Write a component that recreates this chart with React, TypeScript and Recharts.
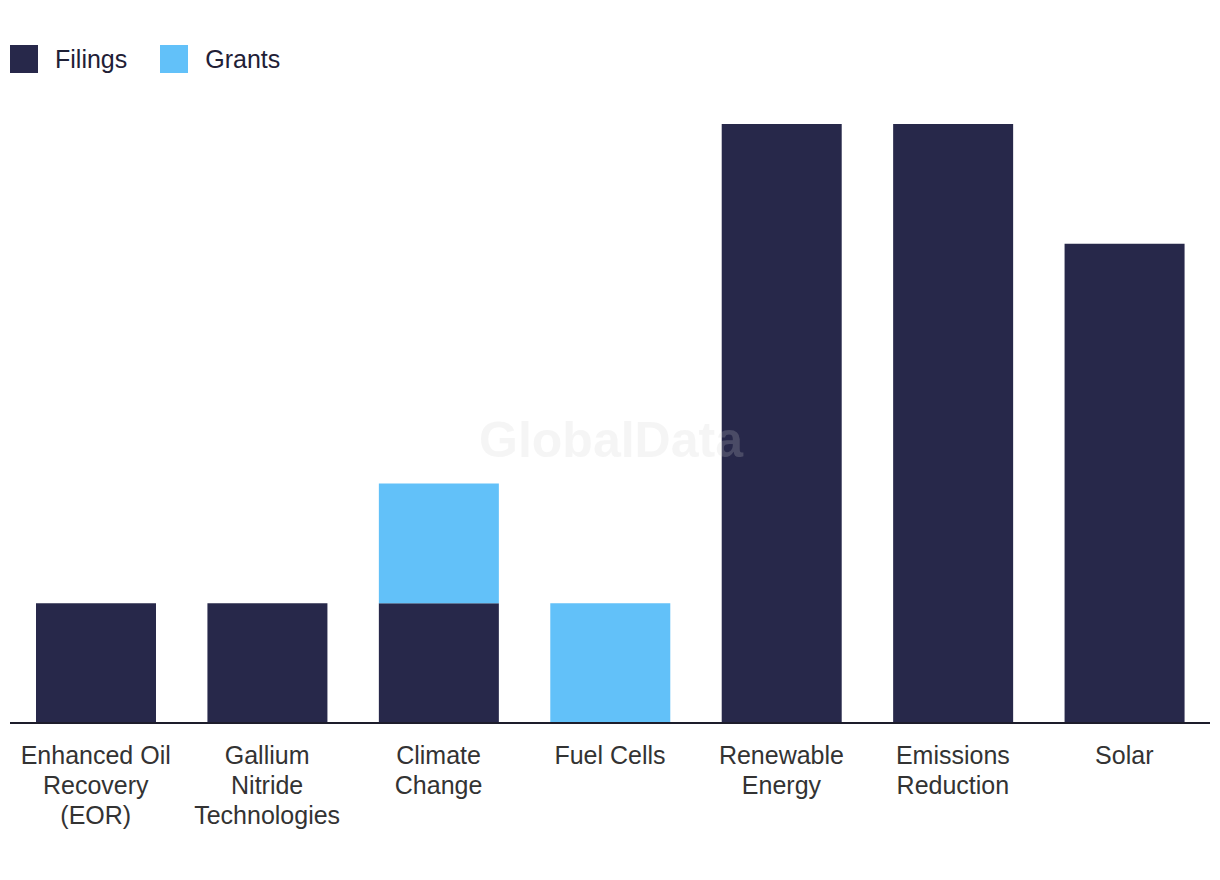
import { Bar, BarChart, XAxis, YAxis } from 'recharts';

const CATEGORIES = [
  'Enhanced Oil Recovery (EOR)',
  'Gallium Nitride Technologies',
  'Climate Change',
  'Fuel Cells',
  'Renewable Energy',
  'Emissions Reduction',
  'Solar',
];

// how each category label breaks into lines under the axis
const TICK_LINES = [
  ['Enhanced Oil', 'Recovery', '(EOR)'],
  ['Gallium', 'Nitride', 'Technologies'],
  ['Climate', 'Change'],
  ['Fuel Cells'],
  ['Renewable', 'Energy'],
  ['Emissions', 'Reduction'],
  ['Solar'],
];

const FILINGS = [1, 1, 1, 0, 5, 5, 4];
const GRANTS = [0, 0, 1, 1, 0, 0, 0];

const NAVY = '#27284a';
const SKY = '#62c1f9';
const FONT = '"Liberation Sans", Arial, sans-serif';

const data = CATEGORIES.map((name, i) => ({
  name,
  filings: FILINGS[i],
  grants: GRANTS[i],
}));

const CategoryTick = (props: any) => {
  const { x, y, index } = props;
  const lines = TICK_LINES[index] ?? [String(props.payload?.value ?? '')];
  return (
    <g transform={`translate(${x},${y})`}>
      {lines.map((line: string, i: number) => (
        <text
          key={i}
          x={0}
          y={33 + i * 30}
          textAnchor="middle"
          fill="#333333"
          fontSize={25}
          fontFamily={FONT}
        >
          {line}
        </text>
      ))}
    </g>
  );
};

const LEGEND = [
  { label: 'Filings', color: NAVY },
  { label: 'Grants', color: SKY },
];

export default function App() {
  return (
    <div
      style={{
        position: 'absolute',
        left: 0,
        top: 0,
        width: 1220,
        height: 880,
        background: '#ffffff',
        fontFamily: FONT,
      }}
    >
      <div style={{ position: 'absolute', left: 10, top: 45, display: 'flex', alignItems: 'center' }}>
        {LEGEND.map((item) => (
          <div key={item.label} style={{ display: 'flex', alignItems: 'center', marginRight: 33 }}>
            <span style={{ width: 28, height: 28, background: item.color, display: 'inline-block' }} />
            <span style={{ marginLeft: 17, fontSize: 25, color: '#1f2036', lineHeight: '26px' }}>
              {item.label}
            </span>
          </div>
        ))}
      </div>

      <BarChart
        width={1220}
        height={880}
        data={data}
        margin={{ top: 124, right: 10, bottom: 37, left: 10 }}
        barSize={120}
      >
        <XAxis
          dataKey="name"
          interval={0}
          height={120}
          tickLine={false}
          axisLine={{ stroke: '#1d1d2b', strokeWidth: 2 }}
          tick={<CategoryTick />}
        />
        <YAxis hide domain={[0, 5]} />
        <Bar dataKey="filings" stackId="a" fill={NAVY} isAnimationActive={false} />
        <Bar dataKey="grants" stackId="a" fill={SKY} isAnimationActive={false} />
      </BarChart>

      <svg
        width={1220}
        height={880}
        style={{ position: 'absolute', left: 0, top: 0, pointerEvents: 'none' }}
      >
        <text
          x={611}
          y={457}
          textAnchor="middle"
          fontFamily={FONT}
          fontWeight="bold"
          fontSize={50}
          fill="#cfcfcf"
          fillOpacity={0.21}
        >
          GlobalData
        </text>
      </svg>
    </div>
  );
}
